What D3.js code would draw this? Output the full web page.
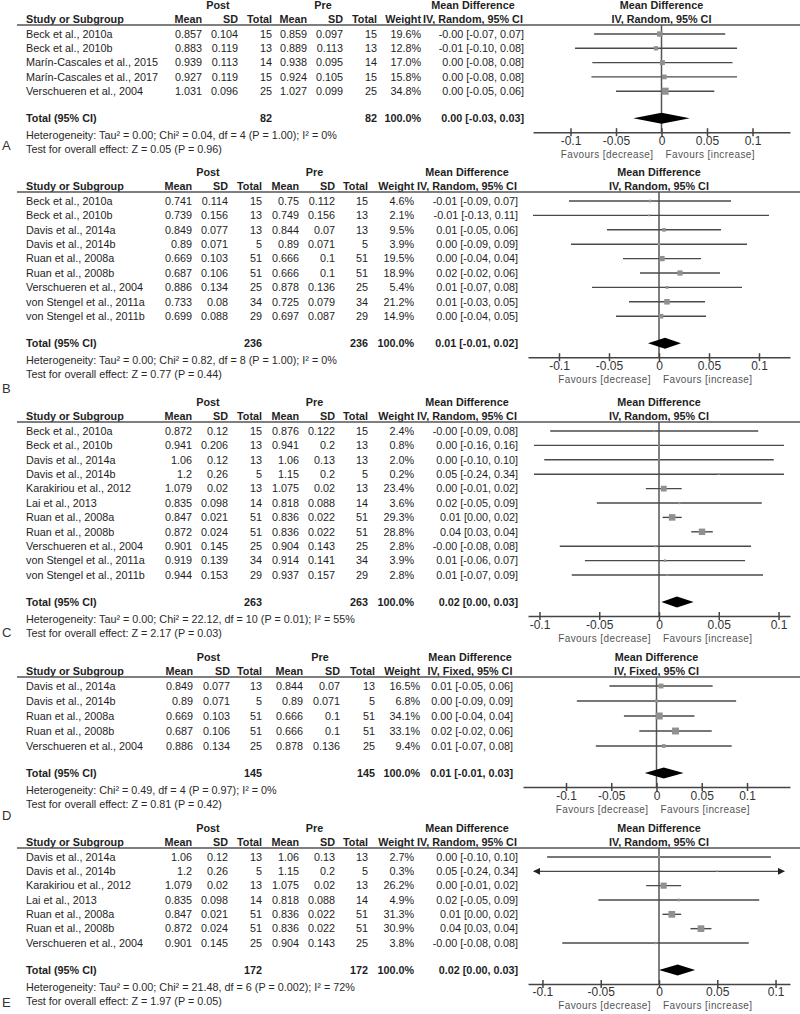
<!DOCTYPE html>
<html lang="en">
<head>
<meta charset="UTF-8">
<title>Forest plots</title>
<script src="https://d3js.org/d3.v7.min.js"></script>
<style>
  body { margin: 0; background: #fff; }
  svg text { font-family: "Liberation Sans", Arial, sans-serif; fill: #1e1e1e; }
</style>
</head>
<body>
<svg id="main" width="800" height="1014"></svg>
<script>
// row: study, post mean, post sd, post n, pre mean, pre sd, pre n, weight %, MD label, md, lo, hi
const rowsA = [
  ["Beck et al., 2010a", 0.857, 0.104, 15, 0.859, 0.097, 15, 19.6, "-0.00 [-0.07, 0.07]", -0.002, -0.074, 0.070],
  ["Beck et al., 2010b", 0.883, 0.119, 13, 0.889, 0.113, 13, 12.8, "-0.01 [-0.10, 0.08]", -0.006, -0.095, 0.083],
  ["Marín-Cascales et al., 2015", 0.939, 0.113, 14, 0.938, 0.095, 14, 17.0, "0.00 [-0.08, 0.08]", 0.001, -0.076, 0.078],
  ["Marín-Cascales et al., 2017", 0.927, 0.119, 15, 0.924, 0.105, 15, 15.8, "0.00 [-0.08, 0.08]", 0.003, -0.077, 0.083],
  ["Verschueren et al., 2004", 1.031, 0.096, 25, 1.027, 0.099, 25, 34.8, "0.00 [-0.05, 0.06]", 0.004, -0.050, 0.058]
];
const rowsB = [
  ["Beck et al., 2010a", 0.741, 0.114, 15, 0.75, 0.112, 15, 4.6, "-0.01 [-0.09, 0.07]", -0.009, -0.090, 0.072],
  ["Beck et al., 2010b", 0.739, 0.156, 13, 0.749, 0.156, 13, 2.1, "-0.01 [-0.13, 0.11]", -0.010, -0.130, 0.110],
  ["Davis et al., 2014a", 0.849, 0.077, 13, 0.844, 0.07, 13, 9.5, "0.01 [-0.05, 0.06]", 0.005, -0.052, 0.062],
  ["Davis et al., 2014b", 0.89, 0.071, 5, 0.89, 0.071, 5, 3.9, "0.00 [-0.09, 0.09]", 0.000, -0.088, 0.088],
  ["Ruan et al., 2008a", 0.669, 0.103, 51, 0.666, 0.1, 51, 19.5, "0.00 [-0.04, 0.04]", 0.003, -0.036, 0.042],
  ["Ruan et al., 2008b", 0.687, 0.106, 51, 0.666, 0.1, 51, 18.9, "0.02 [-0.02, 0.06]", 0.021, -0.019, 0.061],
  ["Verschueren et al., 2004", 0.886, 0.134, 25, 0.878, 0.136, 25, 5.4, "0.01 [-0.07, 0.08]", 0.008, -0.067, 0.083],
  ["von Stengel et al., 2011a", 0.733, 0.08, 34, 0.725, 0.079, 34, 21.2, "0.01 [-0.03, 0.05]", 0.008, -0.030, 0.046],
  ["von Stengel et al., 2011b", 0.699, 0.088, 29, 0.697, 0.087, 29, 14.9, "0.00 [-0.04, 0.05]", 0.002, -0.043, 0.047]
];
const rowsC = [
  ["Beck et al., 2010a", 0.872, 0.12, 15, 0.876, 0.122, 15, 2.4, "-0.00 [-0.09, 0.08]", -0.004, -0.091, 0.083],
  ["Beck et al., 2010b", 0.941, 0.206, 13, 0.941, 0.2, 13, 0.8, "0.00 [-0.16, 0.16]", 0.000, -0.156, 0.156],
  ["Davis et al., 2014a", 1.06, 0.12, 13, 1.06, 0.13, 13, 2.0, "0.00 [-0.10, 0.10]", 0.000, -0.096, 0.096],
  ["Davis et al., 2014b", 1.2, 0.26, 5, 1.15, 0.2, 5, 0.2, "0.05 [-0.24, 0.34]", 0.050, -0.238, 0.338],
  ["Karakiriou et al., 2012", 1.079, 0.02, 13, 1.075, 0.02, 13, 23.4, "0.00 [-0.01, 0.02]", 0.004, -0.011, 0.019],
  ["Lai et al., 2013", 0.835, 0.098, 14, 0.818, 0.088, 14, 3.6, "0.02 [-0.05, 0.09]", 0.017, -0.052, 0.086],
  ["Ruan et al., 2008a", 0.847, 0.021, 51, 0.836, 0.022, 51, 29.3, "0.01 [0.00, 0.02]", 0.011, 0.003, 0.019],
  ["Ruan et al., 2008b", 0.872, 0.024, 51, 0.836, 0.022, 51, 28.8, "0.04 [0.03, 0.04]", 0.036, 0.027, 0.045],
  ["Verschueren et al., 2004", 0.901, 0.145, 25, 0.904, 0.143, 25, 2.8, "-0.00 [-0.08, 0.08]", -0.003, -0.083, 0.077],
  ["von Stengel et al., 2011a", 0.919, 0.139, 34, 0.914, 0.141, 34, 3.9, "0.01 [-0.06, 0.07]", 0.005, -0.062, 0.072],
  ["von Stengel et al., 2011b", 0.944, 0.153, 29, 0.937, 0.157, 29, 2.8, "0.01 [-0.07, 0.09]", 0.007, -0.073, 0.087]
];
const rowsD = [
  ["Davis et al., 2014a", 0.849, 0.077, 13, 0.844, 0.07, 13, 16.5, "0.01 [-0.05, 0.06]", 0.005, -0.052, 0.062],
  ["Davis et al., 2014b", 0.89, 0.071, 5, 0.89, 0.071, 5, 6.8, "0.00 [-0.09, 0.09]", 0.000, -0.088, 0.088],
  ["Ruan et al., 2008a", 0.669, 0.103, 51, 0.666, 0.1, 51, 34.1, "0.00 [-0.04, 0.04]", 0.003, -0.036, 0.042],
  ["Ruan et al., 2008b", 0.687, 0.106, 51, 0.666, 0.1, 51, 33.1, "0.02 [-0.02, 0.06]", 0.021, -0.019, 0.061],
  ["Verschueren et al., 2004", 0.886, 0.134, 25, 0.878, 0.136, 25, 9.4, "0.01 [-0.07, 0.08]", 0.008, -0.067, 0.083]
];
const rowsE = [
  ["Davis et al., 2014a", 1.06, 0.12, 13, 1.06, 0.13, 13, 2.7, "0.00 [-0.10, 0.10]", 0.000, -0.096, 0.096],
  ["Davis et al., 2014b", 1.2, 0.26, 5, 1.15, 0.2, 5, 0.3, "0.05 [-0.24, 0.34]", 0.050, -0.238, 0.338],
  ["Karakiriou et al., 2012", 1.079, 0.02, 13, 1.075, 0.02, 13, 26.2, "0.00 [-0.01, 0.02]", 0.004, -0.011, 0.019],
  ["Lai et al., 2013", 0.835, 0.098, 14, 0.818, 0.088, 14, 4.9, "0.02 [-0.05, 0.09]", 0.017, -0.052, 0.086],
  ["Ruan et al., 2008a", 0.847, 0.021, 51, 0.836, 0.022, 51, 31.3, "0.01 [0.00, 0.02]", 0.011, 0.003, 0.019],
  ["Ruan et al., 2008b", 0.872, 0.024, 51, 0.836, 0.022, 51, 30.9, "0.04 [0.03, 0.04]", 0.036, 0.027, 0.045],
  ["Verschueren et al., 2004", 0.901, 0.145, 25, 0.904, 0.143, 25, 3.8, "-0.00 [-0.08, 0.08]", -0.003, -0.083, 0.077]
];

// total: post n, pre n, MD label, md, lo, hi
const totalA = [82, 82, "0.00 [-0.03, 0.03]", 0.000, -0.031, 0.031];
const totalB = [236, 236, "0.01 [-0.01, 0.02]", 0.006, -0.011, 0.022];
const totalC = [263, 263, "0.02 [0.00, 0.03]", 0.015, 0.002, 0.029];
const totalD = [145, 145, "0.01 [-0.01, 0.03]", 0.008, -0.013, 0.030];
const totalE = [172, 172, "0.02 [0.00, 0.03]", 0.016, 0.000, 0.031];

const hetText = [
  "Heterogeneity: Tau² = 0.00; Chi² = 0.04, df = 4 (P = 1.00); I² = 0%",
  "Heterogeneity: Tau² = 0.00; Chi² = 0.82, df = 8 (P = 1.00); I² = 0%",
  "Heterogeneity: Tau² = 0.00; Chi² = 22.12, df = 10 (P = 0.01); I² = 55%",
  "Heterogeneity: Chi² = 0.49, df = 4 (P = 0.97); I² = 0%",
  "Heterogeneity: Tau² = 0.00; Chi² = 21.48, df = 6 (P = 0.002); I² = 72%"
];
const testText = [
  "Test for overall effect: Z = 0.05 (P = 0.96)",
  "Test for overall effect: Z = 0.77 (P = 0.44)",
  "Test for overall effect: Z = 2.17 (P = 0.03)",
  "Test for overall effect: Z = 0.81 (P = 0.42)",
  "Test for overall effect: Z = 1.97 (P = 0.05)"
];
const methods = ["Random", "Random", "Random", "Fixed", "Random"];
const panelLetters = ["A", "B", "C", "D", "E"];
const tickValues = [-0.1, -0.05, 0, 0.05, 0.1];
const tickLabels = ["-0.1", "-0.05", "0", "0.05", "0.1"];

// layout (pixels) per panel
const colsWide = [202, 238, 272, 307, 343, 377, 421, 524];
const colsNarrow = [192, 228, 262, 299, 335, 368, 414, 518];
const layout = [
  {top: 5,   step: 14.3,  letterY: 145,  cols: colsWide, mdHead: 51, axis: [533, 790], xMax: 0.1412, arrows: false},
  {top: 172, step: 14.4,  letterY: 388,  cols: colsNarrow, mdHead: 51, axis: [528, 790], xMax: 0.131, arrows: false},
  {top: 402, step: 14.4,  letterY: 632,  cols: colsNarrow, mdHead: 51, axis: [528, 790], xMax: 0.1096, arrows: false},
  {top: 657, step: 15,    letterY: 815,  cols: [193, 230, 262, 303, 340, 375, 420, 513], mdHead: 43, axis: [523, 790], xMax: 0.1475, arrows: false},
  {top: 828, step: 14.33, letterY: 1002, cols: colsNarrow, mdHead: 51, axis: [528, 790], xMax: 0.1124, arrows: true}
];

const allRows = [rowsA, rowsB, rowsC, rowsD, rowsE];
const allTotals = [totalA, totalB, totalC, totalD, totalE];
const FS = 10.8;

let svg = d3.select('svg#main');
svg.append('defs').append('marker')
    .attr('id', 'arrow').attr('viewBox', '0 0 10 10')
    .attr('refX', 9).attr('refY', 5)
    .attr('markerWidth', 5).attr('markerHeight', 5)
    .attr('orient', 'auto-start-reverse')
    .append('path').attr('d', 'M0,0 L10,5 L0,10 z').attr('fill', '#222');

function txt(g, x, y, s, anchor, bold, size) {
    return g.append('text')
        .attr('x', x).attr('y', y).attr('dy', '0.35em')
        .attr('text-anchor', anchor || 'start')
        .style('font-size', (size || FS) + 'px')
        .style('font-weight', bold ? 'bold' : 'normal')
        .text(s);
}

allRows.forEach(function (rows, p) {
    let L = layout[p];
    let total = allTotals[p];
    let c = L.cols;
    let g = svg.append('g');

    let x = d3.scaleLinear().domain([-L.xMax, L.xMax]).range(L.axis);
    let zero = x(0);

    let yHead = L.top + 14, yRule = L.top + 20, yFirst = L.top + 29;
    let y = function (i) { return yFirst + i * L.step; };
    let yTotal = y(rows.length - 1) + 27;
    let yHet = yTotal + 17, yTest = yHet + 14;
    let yAxis = yTotal + 14;

    // group headers
    txt(g, (c[0] + c[2]) / 2 - 19, L.top, "Post", "middle", true);
    txt(g, (c[3] + c[5]) / 2 - 19, L.top, "Pre", "middle", true);
    txt(g, c[7] - L.mdHead, L.top, "Mean Difference", "middle", true);
    txt(g, zero, L.top, "Mean Difference", "middle", true);

    // column headers
    txt(g, 26, yHead, "Study or Subgroup", "start", true);
    ["Mean", "SD", "Total", "Mean", "SD", "Total", "Weight"].forEach(function (h, i) {
        txt(g, c[i], yHead, h, "end", true);
    });
    let ivLabel = "IV, " + methods[p] + ", 95% CI";
    txt(g, c[7] - L.mdHead, yHead, ivLabel, "middle", true);
    txt(g, zero, yHead, ivLabel, "middle", true);

    g.append('line').attr('x1', 17).attr('x2', 800).attr('y1', yRule).attr('y2', yRule)
        .style('stroke', '#555').style('stroke-width', 1.5);

    // zero line
    g.append('line').attr('x1', zero).attr('x2', zero).attr('y1', yRule).attr('y2', yAxis)
        .style('stroke', '#555').style('stroke-width', 1.5);

    // study rows
    let clipLo = -L.xMax + 0.005, clipHi = L.xMax - 0.005;
    rows.forEach(function (r, i) {
        let yy = y(i);
        txt(g, 26, yy, r[0]);
        for (let k = 1; k <= 6; k++) txt(g, c[k - 1], yy, String(r[k]), "end");
        txt(g, c[6], yy, r[7].toFixed(1) + "%", "end");
        txt(g, c[7], yy, r[8], "end");

        let lo = Math.max(r[10], clipLo), hi = Math.min(r[11], clipHi);
        let ln = g.append('line')
            .attr('x1', x(lo)).attr('x2', x(hi)).attr('y1', yy).attr('y2', yy)
            .style('stroke', '#4a4a4a').style('stroke-width', 1.4);
        if (L.arrows && r[10] < clipLo) ln.attr('marker-start', 'url(#arrow)');
        if (L.arrows && r[11] > clipHi) ln.attr('marker-end', 'url(#arrow)');

        let s = Math.max(1.6, 1.2 * Math.sqrt(r[7]));
        g.append('rect')
            .attr('x', x(r[9]) - s / 2).attr('y', yy - s / 2)
            .attr('width', s).attr('height', s)
            .style('fill', '#909090');
    });

    // total row
    txt(g, 26, yTotal, "Total (95% CI)", "start", true);
    txt(g, c[2], yTotal, String(total[0]), "end", true);
    txt(g, c[5], yTotal, String(total[1]), "end", true);
    txt(g, c[6], yTotal, "100.0%", "end", true);
    txt(g, c[7], yTotal, total[2], "end", true);

    let h = 5.5;
    let pts = [[x(total[4]), yTotal], [x(total[3]), yTotal - h], [x(total[5]), yTotal], [x(total[3]), yTotal + h]];
    g.append('polygon').attr('points', pts.map(function (d) { return d.join(','); }).join(' '))
        .style('fill', '#000');

    txt(g, 26, yHet, hetText[p]).style('fill', '#2a2a2a');
    txt(g, 26, yTest, testText[p]).style('fill', '#2a2a2a');
    txt(g, 2, L.letterY, panelLetters[p], "start", false, 13).style('fill', '#333');

    // axis
    let ax = g.append('g')
        .attr('transform', 'translate(0,' + yAxis + ')')
        .call(d3.axisBottom(x).tickValues(tickValues)
            .tickFormat(function (d, i) { return tickLabels[i]; })
            .tickSizeInner(4).tickSizeOuter(0).tickPadding(0));
    ax.select('.domain').style('stroke', '#444').style('stroke-width', 1.5);
    ax.selectAll('.tick line').attr('y1', -4).style('stroke', '#444').style('stroke-width', 1.5);
    ax.selectAll('.tick text')
        .style('font-family', '"Liberation Sans", Arial, sans-serif')
        .style('font-size', '12px').style('fill', '#333');

    txt(g, zero - 8, yAxis + 22, "Favours [decrease]", "end", false, 10)
        .style('fill', '#555').style('letter-spacing', '0.4px');
    txt(g, zero + 4, yAxis + 22, "Favours [increase]", "start", false, 10)
        .style('fill', '#555').style('letter-spacing', '0.4px');
});
</script>
</body>
</html>
